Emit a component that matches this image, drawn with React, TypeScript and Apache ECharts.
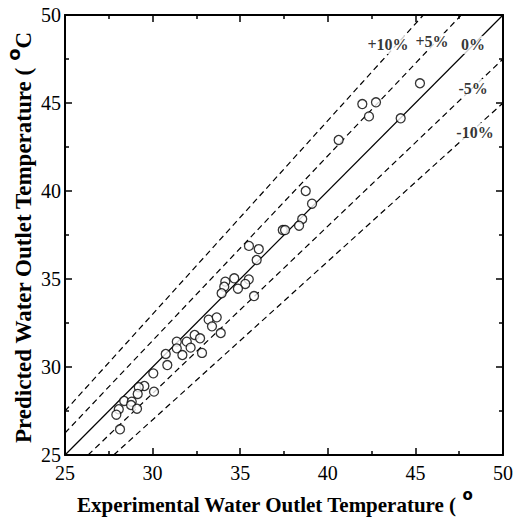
import React, { useEffect, useRef } from 'react';
import * as echarts from 'echarts';

// Experimental vs predicted water outlet temperature (°C)
const experimental = [45.26, 41.97, 42.75, 42.35, 44.16, 40.62, 38.74, 39.10, 38.54, 38.36, 37.43, 37.56, 35.50, 36.06, 35.94, 34.66, 34.15, 34.09, 33.94, 35.49, 35.29, 34.87, 35.79, 33.20, 33.66, 33.39, 33.89, 32.40, 32.71, 31.38, 31.95, 31.38, 32.17, 31.70, 32.82, 30.75, 30.84, 30.04, 29.53, 29.21, 29.15, 30.08, 28.38, 28.81, 28.77, 29.11, 28.07, 27.93, 28.14];
const predicted = [46.12, 44.94, 45.04, 44.24, 44.13, 42.90, 40.00, 39.28, 38.41, 38.03, 37.78, 37.78, 36.88, 36.70, 36.08, 35.04, 34.85, 34.56, 34.19, 34.98, 34.72, 34.45, 34.03, 32.69, 32.82, 32.31, 31.93, 31.82, 31.63, 31.44, 31.44, 31.06, 31.10, 30.68, 30.80, 30.74, 30.11, 29.64, 28.92, 28.85, 28.47, 28.60, 28.07, 28.03, 27.84, 27.63, 27.60, 27.29, 26.46];

// Deviation reference lines (percent) and their labels
const deviations = [10, 5, 0, -5, -10];
const deviationLabels = ['+10%', '+5%', '0%', '-5%', '-10%'];
const labelX = [43.44, 45.95, 48.29, 48.29, 48.40];
const labelY = [48.30, 48.47, 48.30, 45.85, 43.35];

const axisMin = 25;
const axisMax = 50;
const tickInterval = 5;

const xTitle = 'Experimental Water Outlet Temperature ( ';
const yTitle = 'Predicted Water Outlet Temperature ( ';

const SERIF = '"Liberation Serif", "Times New Roman", serif';

export default function App() {
  const ref = useRef<HTMLDivElement>(null);

  useEffect(() => {
    document.body.style.margin = '0';
    if (!ref.current) return;
    const chart = echarts.init(ref.current, undefined, { renderer: 'svg' });

    const axisCommon = {
      type: 'value' as const,
      min: axisMin,
      max: axisMax,
      interval: tickInterval,
      axisLine: { show: true, onZero: false, lineStyle: { color: '#000', width: 2 } },
      axisTick: { show: true, inside: true, length: 7, lineStyle: { color: '#000', width: 1.5 } },
      minorTick: { show: true, splitNumber: 2, length: 4, lineStyle: { color: '#000', width: 1.5 } },
      splitLine: { show: false },
      minorSplitLine: { show: false },
    };

    const lineSeries = deviations.map((d, i) => {
      const f = 1 + d / 100;
      const x0 = Math.max(axisMin, axisMin / f);
      const x1 = Math.min(axisMax, axisMax / f);
      return {
        type: 'line',
        name: deviationLabels[i],
        data: [
          [x0, x0 * f],
          [x1, x1 * f],
        ],
        showSymbol: false,
        symbol: 'none',
        silent: true,
        z: 2,
        lineStyle: { color: '#000', width: 1.2, type: d === 0 ? 'solid' : [6, 4] },
      };
    });

    const pointData = experimental.map((x, i) => [x, predicted[i]]);
    const labelData = deviationLabels.map((t, i) => ({ value: [labelX[i], labelY[i]], name: t }));

    chart.setOption({
      animation: false,
      backgroundColor: '#fff',
      grid: { left: 65, top: 15, right: 17, bottom: 65, containLabel: false },
      xAxis: [
        {
          ...axisCommon,
          position: 'bottom',
          axisLabel: { color: '#000', fontSize: 20, fontFamily: SERIF, margin: 8 },
        },
        { ...axisCommon, position: 'top', axisLabel: { show: false } },
      ],
      yAxis: [
        {
          ...axisCommon,
          position: 'left',
          axisLabel: { color: '#000', fontSize: 20, fontFamily: SERIF, margin: 4 },
        },
        { ...axisCommon, position: 'right', axisLabel: { show: false } },
      ],
      series: [
        ...lineSeries,
        {
          type: 'scatter',
          name: 'data',
          data: pointData,
          symbol: 'circle',
          symbolSize: 9,
          z: 3,
          itemStyle: { color: '#fff', borderColor: '#000', borderWidth: 1.3 },
        },
        {
          type: 'scatter',
          name: 'labels',
          data: labelData,
          symbolSize: 0,
          silent: true,
          z: 4,
          label: {
            show: true,
            position: 'inside',
            formatter: (p: any) => p.name,
            color: '#000',
            fontFamily: SERIF,
            fontWeight: 'bold',
            fontSize: 16,
            backgroundColor: '#fff',
            padding: [1, 2],
          },
        },
      ],
      graphic: [
        {
          type: 'text',
          x: 77,
          y: 505,
          style: {
            text: xTitle + '{deg|o}',
            fill: '#000',
            fontFamily: SERIF,
            fontWeight: 'bold',
            fontSize: 21,
            lineHeight: 36,
            align: 'left',
            verticalAlign: 'middle',
            rich: {
              deg: { fontFamily: 'DejaVu Sans', fontWeight: 'bold', fontSize: 15, lineHeight: 14, verticalAlign: 'top', fill: '#000' },
            },
          },
        },
        {
          type: 'text',
          x: 23,
          y: 443,
          rotation: Math.PI / 2,
          style: {
            text: yTitle + '{deg|o}C',
            fill: '#000',
            fontFamily: SERIF,
            fontWeight: 'bold',
            fontSize: 23,
            lineHeight: 38,
            align: 'left',
            verticalAlign: 'middle',
            rich: {
              deg: { fontFamily: 'DejaVu Sans', fontWeight: 'bold', fontSize: 18, lineHeight: 14, verticalAlign: 'top', fill: '#000' },
            },
          },
        },
      ],
    });

    return () => chart.dispose();
  }, []);

  return <div ref={ref} style={{ width: 520, height: 520 }} />;
}
